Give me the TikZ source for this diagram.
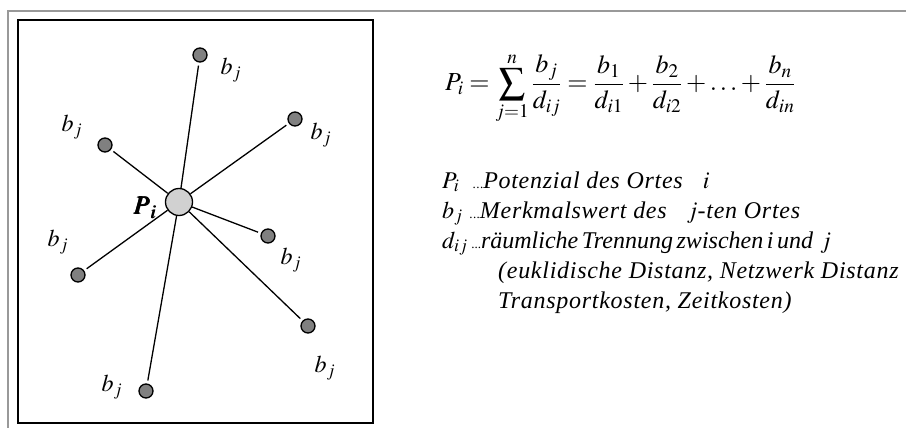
\documentclass[tikz,border=0pt]{standalone}
\usepackage{mathptmx}
\usepackage{bm}
\usepackage{fontspec}
\setmainfont{Liberation Serif}
\newfontfamily\legfont[LetterSpace=3]{Liberation Serif}
\newcommand{\pkte}{{\fontsize{13}{13}\selectfont\upshape...}}
\begin{document}
\begin{tikzpicture}[x=1pt, y=-1pt,
		ort/.style={circle, draw, line width=1.3pt, fill=black!50, minimum size=14pt, inner sep=0pt},
		zentrum/.style={circle, draw, line width=1.3pt, fill=black!18, minimum size=27pt, inner sep=0pt},
		lab/.style={font=\fontsize{24}{28}\selectfont, inner sep=0pt},
		strahl/.style={line width=1.3pt, shorten >=3pt}]
		\useasboundingbox (0,0) rectangle (906,428);

		% Grey page frame and black map box
		\draw[black!40, line width=1.5pt] (8,428) -- (8,11) -- (906,11);
		\draw[line width=2pt] (18,20) rectangle (373,423);

		% Location i in the middle
		\node[zentrum] (P) at (179,202) {};
		\node[inner sep=0pt, font=\fontsize{26}{30}\selectfont] (Plab) at (145,208) {$\bm{P_i}$};

		% Locations j with their values b_j
		\foreach \name/\x/\y/\lx/\ly in {o/200/55/231/70, lo/105/145/72/127, ro/295/119/321/135,
				r/268/236/291/260, l/78/275/58/242, ru/308/326/325/368, u/146/391/112/387} {
				\node[ort] (\name) at (\x,\y) {};
				\node[lab] (b\name) at (\lx,\ly) {$b_j$};
				\draw[strahl] (P) -- (\name);
			}

		% Formula
		\node[anchor=base west, inner sep=0pt, font=\fontsize{26}{30}\selectfont] (formel) at (445,91)
			{$\displaystyle P_i=\sum_{j=1}^{n}\frac{b_j}{d_{ij}}=\frac{b_1}{d_{i1}}+\frac{b_2}{d_{i2}}+\ldots+\frac{b_n}{d_{in}}$};

		% Legend
		\node[anchor=base west, inner sep=0pt, align=left, font=\legfont\fontsize{24}{30}\selectfont\itshape] (legende) at (442,308)
			{$P_i$\ \ \pkte Potenzial des Ortes\ \ \ $i$\\
			$b_j$\ \pkte Merkmalswert des\ \ \ $j$-ten Ortes\\
			{\rmfamily\itshape\spaceskip=0.15em $d_{ij}$\ \pkte räumliche Trennung zwischen i und\ \ $j$}\\
			\hspace*{56pt}(euklidische Distanz, Netzwerk Distanz\\
			\hspace*{56pt}Transportkosten, Zeitkosten)};
	\end{tikzpicture}
\end{document}
